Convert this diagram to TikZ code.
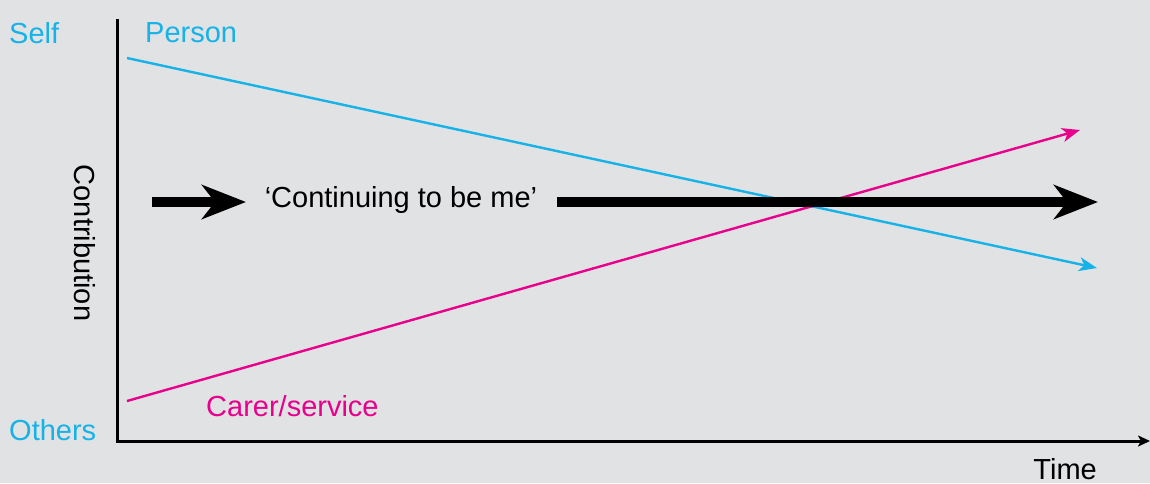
\documentclass[tikz,border=0pt]{standalone}
\usepackage{fontspec}
\setmainfont{Liberation Sans}
\usetikzlibrary{arrows.meta}
\definecolor{bg}{RGB}{225,226,228}
\definecolor{pcyan}{RGB}{22,178,232}
\definecolor{pmag}{RGB}{232,0,140}
\tikzset{
  lbl/.style={inner sep=0pt, font=\fontsize{29}{33}\selectfont},
  thinline/.style={line width=2.4pt, -{Stealth[length=18pt,width=14pt,inset=5pt]}},
  bigarrow/.style={line width=10pt, -{Stealth[length=44pt,width=34pt,inset=13pt]}},
  axis/.style={line width=3pt, black}
}
\begin{document}
\begin{tikzpicture}[x=1pt,y=-1pt]
\useasboundingbox[fill=bg] (0,0) rectangle (1150,483);
% axes
\coordinate (ytop) at (117,19);
\coordinate (origin) at (117,441);
\coordinate (xend) at (1150,441);
\draw[axis] (ytop) -- (origin);
\draw[axis, -{Stealth[length=12pt,width=11pt,inset=3pt]}] (115.5,441) -- (xend);
% labels
\node[lbl, text=pcyan, anchor=west] (self) at (9,33) {Self};
\node[lbl, text=pcyan, anchor=west] (person) at (145,33) {Person};
\node[lbl, text=pcyan, anchor=west] (others) at (9,430) {Others};
\node[lbl, text=pmag, anchor=west] (carer) at (206,406) {Carer/service};
\node[lbl, anchor=base east] (time) at (1097,479) {Time};
\node[lbl, rotate=-90] (contrib) at (85,243) {Contribution};
% lines
\coordinate (p1) at (127,58);
\coordinate (p2) at (1097,268);
\coordinate (c1) at (127,401);
\coordinate (c2) at (1080,130);
\draw[thinline, pcyan] (p1) -- (p2);
\draw[thinline, pmag] (c1) -- (c2);
% continuing arrows
\node[lbl, anchor=center] (cont) at (401,200) {‘Continuing to be me’};
\coordinate (a1) at (152,202);
\coordinate (a2) at (246,202);
\coordinate (b1) at (557,202);
\coordinate (b2) at (1098,202);
\draw[bigarrow] (a1) -- (a2);
\draw[bigarrow] (b1) -- (b2);
\end{tikzpicture}
\end{document}
